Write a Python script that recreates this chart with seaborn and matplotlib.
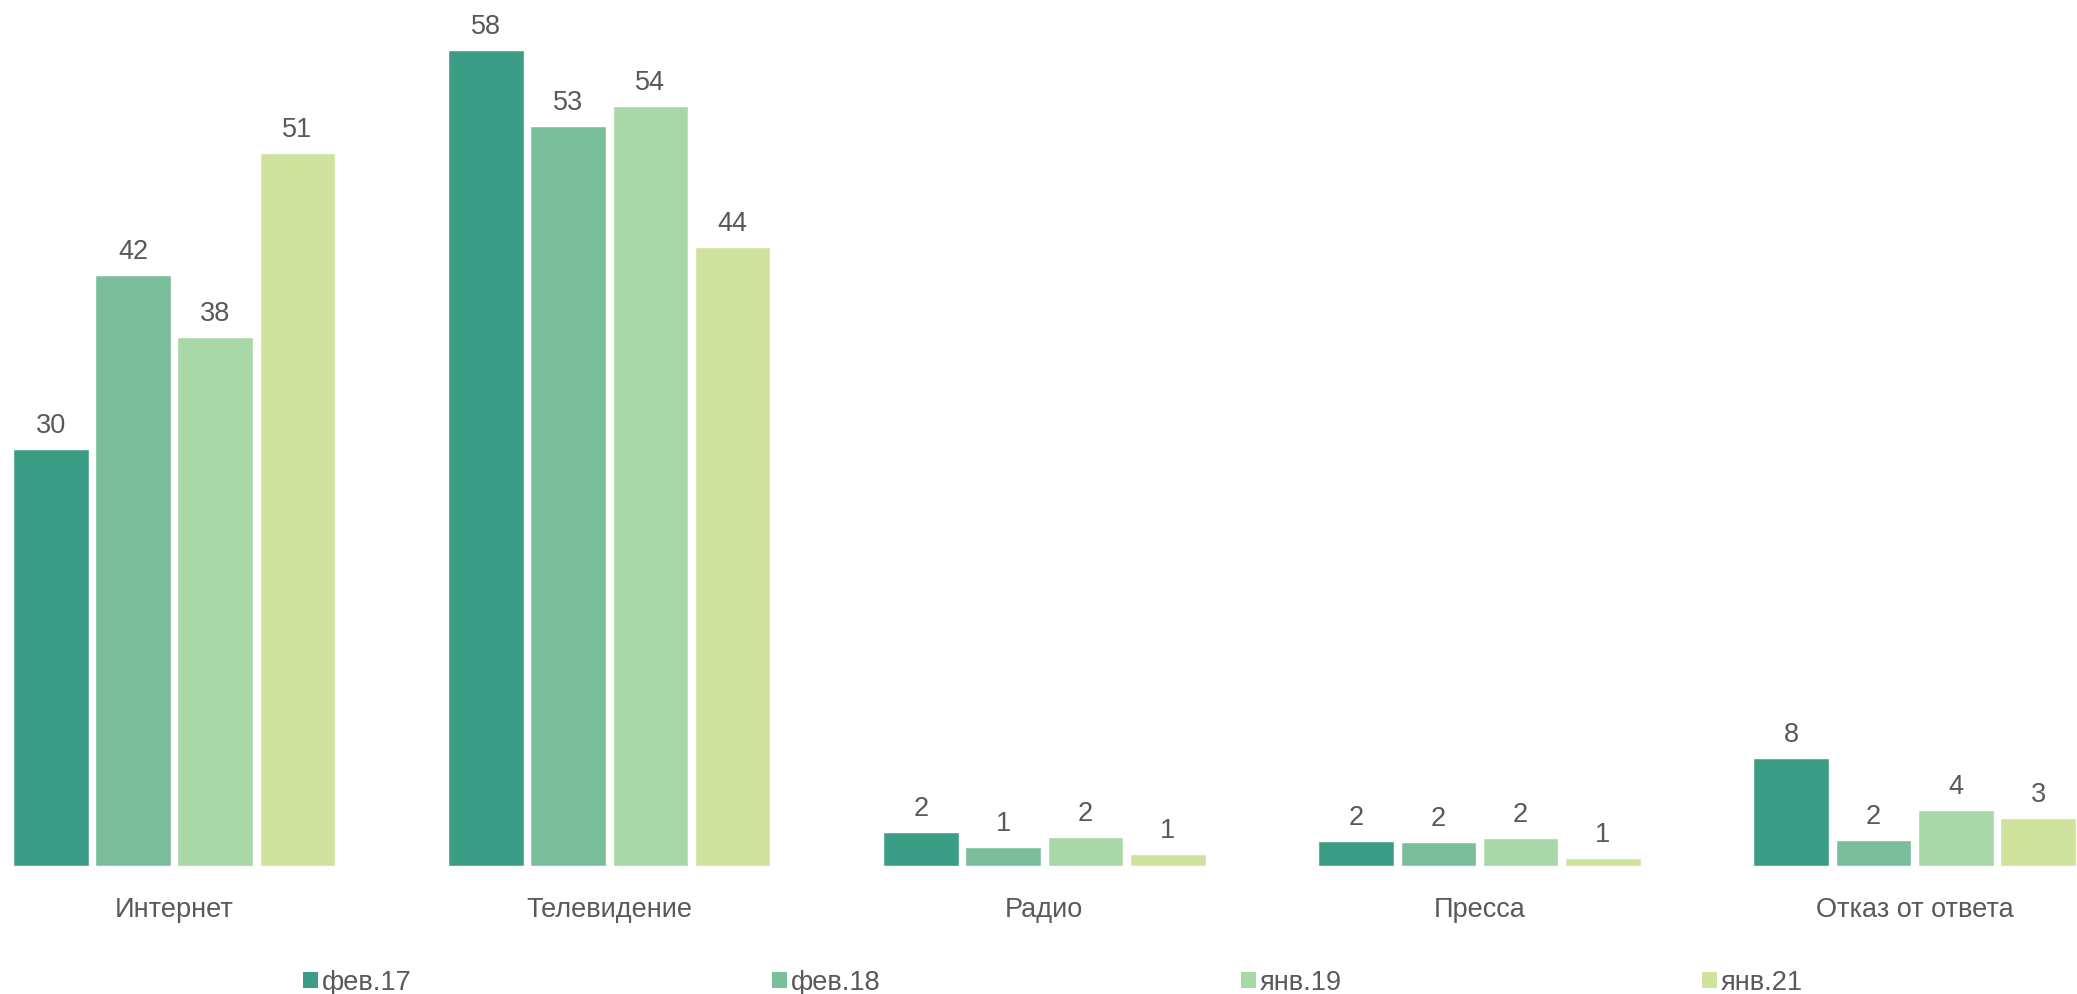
import numpy as np
import pandas as pd
import seaborn as sns
import matplotlib.pyplot as plt
from matplotlib.patches import Patch

# data
categories = ['Интернет', 'Телевидение', 'Радио', 'Пресса', 'Отказ от ответа']
periods = ['фев.17', 'фев.18', 'янв.19', 'янв.21']
feb17 = [29.6, 58.0, 2.37, 1.75, 7.62]
feb18 = [42.0, 52.6, 1.3, 1.68, 1.85]
jan19 = [37.6, 54.0, 2.04, 1.94, 3.95]
jan21 = [50.65, 43.96, 0.85, 0.52, 3.38]
colors = ['#3C9D86', '#7BBE9B', '#A8D7A8', '#CFE39E']

series = [feb17, feb18, jan19, jan21]
df = pd.DataFrame({
    'category': categories * len(periods),
    'period': np.repeat(periods, len(categories)),
    'value': np.concatenate(series),
})

sns.set_style('white')
plt.rcParams['font.family'] = ['Liberation Sans', 'DejaVu Sans']
text_color = '#595959'

fig = plt.figure(figsize=(20.77, 9.95), dpi=100)
ax = fig.add_axes([0, 0.129, 1, 0.871])

sns.barplot(data=df, x='category', y='value', hue='period', order=categories,
            hue_order=periods, palette=colors, width=0.756, gap=0.08,
            saturation=1, errorbar=None, legend=False, ax=ax)

for cont in ax.containers:
    ax.bar_label(cont, labels=[f'{v:.0f}' for v in cont.datavalues],
                 padding=8, fontsize=19.5, color=text_color)

ax.set_xlim(-0.40, 4.373)
ax.set_ylim(0, 61.6)
ax.set_xlabel('')
ax.set_ylabel('')
ax.set_yticks([])
ax.tick_params(axis='x', length=0, pad=22, labelsize=19.5, labelcolor=text_color)
for s in ax.spines.values():
    s.set_visible(False)

handles = [Patch(facecolor=c, edgecolor='none') for c in colors]
fig.legend(handles, periods, loc='lower center', bbox_to_anchor=(0.507, -0.026),
           ncol=4, frameon=False, fontsize=19.5, labelcolor=text_color,
           handlelength=0.55, handleheight=0.55, handletextpad=0.15,
           columnspacing=13.3)

fig.savefig('out.png', dpi=100)
